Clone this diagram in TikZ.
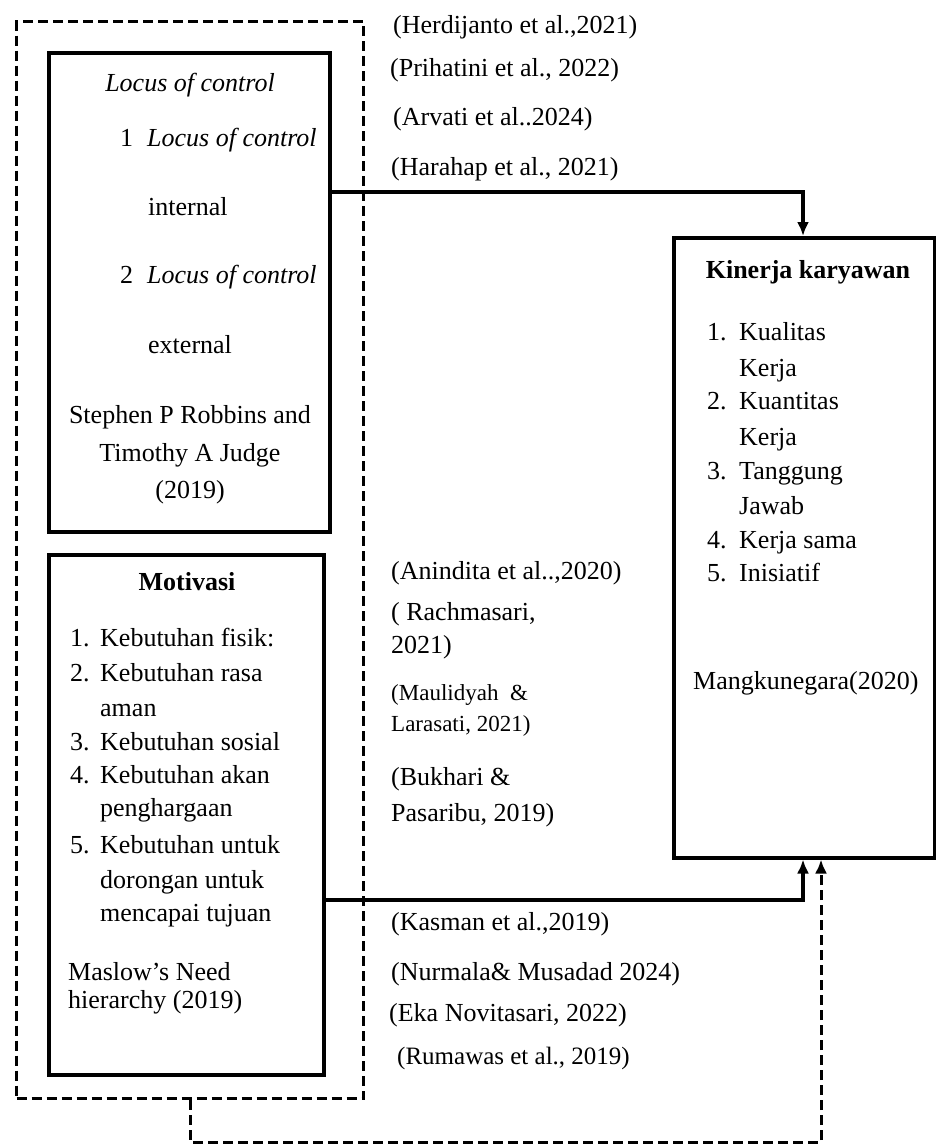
\documentclass[tikz,border=0pt]{standalone}
\usepackage{fontspec}
\setmainfont{Liberation Serif}
\usetikzlibrary{arrows.meta, positioning}
\newcommand{\bodyfont}{\fontsize{26}{34}\selectfont}
\newcommand{\smallcite}{\fontsize{23}{30}\selectfont}

\begin{document}
\begin{tikzpicture}[x=1pt, y=-1pt,
  box/.style={draw, line width=3.5pt, inner sep=0pt, anchor=north west},
  groupbox/.style={draw, line width=3pt, dash pattern=on 10pt off 5pt, inner sep=0pt, anchor=north west},
  txt/.style={anchor=base west, inner sep=0pt, font=\bodyfont},
  ctxt/.style={anchor=base, inner sep=0pt, font=\bodyfont},
  link/.style={line width=3.5pt, -{Latex[length=14pt, width=12pt]}},
  dashlink/.style={line width=3pt, dash pattern=on 10pt off 5pt, -{Latex[length=14pt, width=12pt]}}
]
  \fill[white] (0,0) rectangle (936,1146);
  \useasboundingbox (0,0) rectangle (936,1146);

  % Boxes
  \node[groupbox, minimum width=347pt, minimum height=1077pt] (grp) at (15,20) {};
  \node[box, minimum width=281pt, minimum height=479pt] (locus) at (47,51) {};
  \node[box, minimum width=275pt, minimum height=520pt] (motivasi) at (47,553) {};
  \node[box, minimum width=261pt, minimum height=620pt] (kinerja) at (672,236) {};

  % Locus of control
  \node[ctxt, font=\bodyfont\itshape] (loctitle) at (190,91) {Locus of control};
  \node[txt] (locnum1) at (120,146) {1};
  \node[txt, font=\bodyfont\itshape] (locitem1) at (147,146) {Locus of control};
  \node[txt] (locint) at (148,215) {internal};
  \node[txt] (locnum2) at (120,283) {2};
  \node[txt, font=\bodyfont\itshape] (locitem2) at (147,283) {Locus of control};
  \node[txt] (locext) at (148,353) {external};
  \node[ctxt] (locsrc1) at (190,423) {Stephen P Robbins and};
  \node[ctxt] (locsrc2) at (190,461) {Timothy A Judge};
  \node[ctxt] (locsrc3) at (190,498) {(2019)};

  % Motivasi
  \node[ctxt, font=\bodyfont\bfseries] (mottitle) at (187,590) {Motivasi};
  \node[txt] (motn1) at (70,646) {1.};
  \node[txt] (moti1) at (100,646) {Kebutuhan fisik:};
  \node[txt] (motn2) at (70,681) {2.};
  \node[txt] (moti2) at (100,681) {Kebutuhan rasa};
  \node[txt] (moti2b) at (100,716) {aman};
  \node[txt] (motn3) at (70,750) {3.};
  \node[txt] (moti3) at (100,750) {Kebutuhan sosial};
  \node[txt] (motn4) at (70,783) {4.};
  \node[txt] (moti4) at (100,783) {Kebutuhan akan};
  \node[txt] (moti4b) at (100,816) {penghargaan};
  \node[txt] (motn5) at (70,853) {5.};
  \node[txt] (moti5) at (100,853) {Kebutuhan untuk};
  \node[txt] (moti5b) at (100,888) {dorongan untuk};
  \node[txt] (moti5c) at (100,921) {mencapai tujuan};
  \node[txt] (motsrc1) at (68,980) {Maslow’s Need};
  \node[txt] (motsrc2) at (68,1008) {hierarchy (2019)};

  % Kinerja karyawan
  \node[ctxt, font=\bodyfont\bfseries] (kintitle) at (808,278) {Kinerja karyawan};
  \node[txt] (kinn1) at (707,340) {1.};
  \node[txt] (kini1) at (739,340) {Kualitas};
  \node[txt] (kini1b) at (739,376) {Kerja};
  \node[txt] (kinn2) at (707,409) {2.};
  \node[txt] (kini2) at (739,409) {Kuantitas};
  \node[txt] (kini2b) at (739,445) {Kerja};
  \node[txt] (kinn3) at (707,479) {3.};
  \node[txt] (kini3) at (739,479) {Tanggung};
  \node[txt] (kini3b) at (739,514) {Jawab};
  \node[txt] (kinn4) at (707,548) {4.};
  \node[txt] (kini4) at (739,548) {Kerja sama};
  \node[txt] (kinn5) at (707,581) {5.};
  \node[txt] (kini5) at (739,581) {Inisiatif};
  \node[txt] (kinsrc) at (693,689) {Mangkunegara(2020)};

  % References, top link
  \node[txt] (herdijanto) at (393,33) {(Herdijanto et al.,2021)};
  \node[txt] (prihatini) at (390,76) {(Prihatini et al., 2022)};
  \node[txt] (arvati) at (393,125) {(Arvati et al..2024)};
  \node[txt] (harahap) at (391,175) {(Harahap et al., 2021)};

  % References, middle
  \node[txt] (anindita) at (391,579) {(Anindita et al..,2020)};
  \node[txt] (rachmasari) at (391,620) {( Rachmasari,};
  \node[txt] (rachyear) at (391,653) {2021)};
  \node[txt, font=\smallcite] (maulidyah) at (391,700) {(Maulidyah \ \&};
  \node[txt, font=\smallcite] (larasati) at (391,731) {Larasati, 2021)};
  \node[txt] (bukhari) at (391,785) {(Bukhari \&};
  \node[txt] (pasaribu) at (391,821) {Pasaribu, 2019)};

  % References, bottom link
  \node[txt] (kasman) at (391,930) {(Kasman et al.,2019)};
  \node[txt] (nurmala) at (391,980) {(Nurmala\& Musadad 2024)};
  \node[txt] (eka) at (389,1021) {(Eka Novitasari, 2022)};
  \node[txt, font=\fontsize{25}{30}\selectfont] (rumawas) at (397,1064) {(Rumawas et al., 2019)};

  % Links
  \coordinate (topbend) at (803,192);
  \coordinate (botbend) at (803,900);
  \coordinate (dashbend) at (821,1142);
  \draw[link] (locus.east |- topbend) -| (kinerja.north -| topbend);
  \draw[link] (motivasi.east |- botbend) -| (kinerja.south -| botbend);
  \draw[dashlink] (grp.south) |- (dashbend) -- (kinerja.south -| dashbend);
\end{tikzpicture}
\end{document}
